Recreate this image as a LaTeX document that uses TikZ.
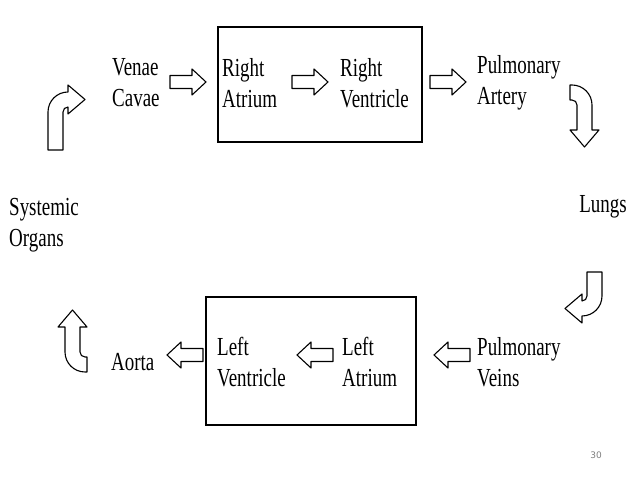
\documentclass[tikz,border=0pt]{standalone}
\usepackage{fontspec}
\setmainfont{Liberation Serif}[FakeStretch=0.73]
\newfontfamily\numfont{DejaVu Sans}
\begin{document}
\begin{tikzpicture}[x=1pt,y=1pt,
  lbl/.style={anchor=west,align=left,font=\fontsize{26}{31}\selectfont,inner sep=0pt},
  ol/.style={draw=black,line width=1.1pt,fill=white,line join=round},
  boxst/.style={draw=black,line width=2.2pt},
  bent/.pic={\draw[ol] (0,0)--(0,\La) arc[start angle=180,end angle=90,radius=20]
     --++(\Lb,0)--++(0,7)--++(17,-14.5)--++(-17,-14.5)--++(0,7)--(20,\La+5)
     arc[start angle=90,end angle=180,radius=5]--(15,0)--cycle;},
  blk/.pic={\draw[ol] (0,-6.5)--(22,-6.5)--(22,-13)--(36,0)--(22,13)--(22,6.5)--(0,6.5)--cycle;}
]
\useasboundingbox (0,0) rectangle (638,479);
\fill[white] (0,0) rectangle (638,479);
\node[boxst,minimum width=204,minimum height=115,inner sep=0] (topbox) at (320,394.5) {};
\node[boxst,minimum width=210,minimum height=128,inner sep=0] (botbox) at (311,118) {};
\node[lbl] (vc) at (112,396) {Venae\\Cavae};
\node[lbl] (ra) at (222,396) {Right\\Atrium};
\node[lbl] (rv) at (340,396) {Right\\Ventricle};
\node[lbl] (pa) at (477,396) {Pulmonary\\Artery};
\node[lbl] (so) at (9,254) {Systemic\\Organs};
\node[lbl,anchor=east] (lu) at (627,272) {Lungs};
\node[lbl] (pv) at (477,117) {Pulmonary\\Veins};
\node[lbl] (la) at (342,117) {Left\\Atrium};
\node[lbl] (lv) at (217,117) {Left\\Ventricle};
\node[lbl] (ao) at (111,117) {Aorta};
\node[font=\numfont\fontsize{9}{10}\selectfont,text=gray] (pg) at (596,24) {30};
\pic at (170,397) {blk};
\pic at (292,397) {blk};
\pic at (430,397) {blk};
\pic[rotate=180] at (470,124) {blk};
\pic[rotate=180] at (333,124) {blk};
\pic[rotate=180] at (203,124) {blk};
\def\La{38}\def\Lb{0}
\pic at (48,329) {bent};
\def\La{24}\def\Lb{0}
\pic[rotate=180] at (602,207) {bent};
\def\La{2}\def\Lb{25}
\pic[rotate=-90] at (570,394) {bent};
\pic[rotate=90] at (87,107) {bent};
\end{tikzpicture}
\end{document}
